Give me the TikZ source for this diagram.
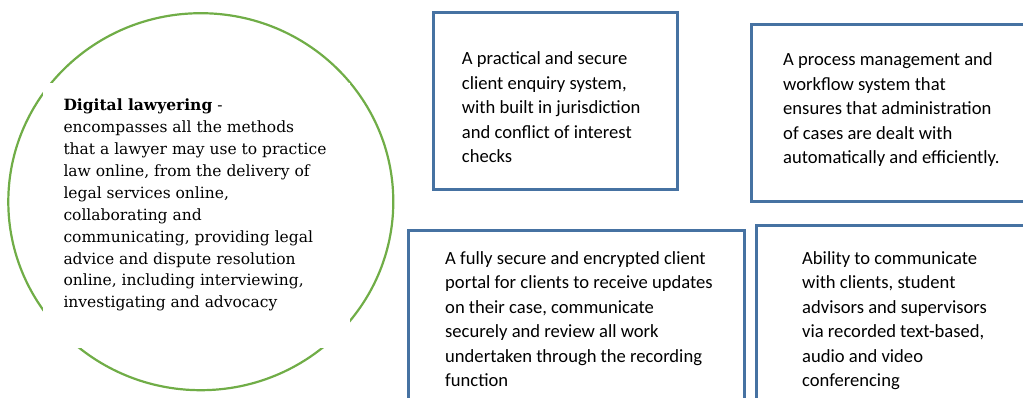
\documentclass[tikz,border=0pt]{standalone}
\usepackage{fontspec}
\usepackage{tikz}
\usetikzlibrary{shapes.geometric}
\newfontfamily\defnfont{DejaVu Serif}
\newfontfamily\boxfont{Carlito}
\definecolor{frameblue}{RGB}{70,114,162}
\definecolor{ringgreen}{RGB}{112,173,71}

\begin{document}
\begin{tikzpicture}[x=1pt, y=-1pt,
		panel/.style={rectangle, draw=frameblue, line width=3pt, fill=white, outer sep=0pt, inner sep=0pt},
		paneltext/.style={anchor=base west, align=left, inner sep=0pt, font=\boxfont\fontsize{18.6}{24.5}\selectfont},
		ring/.style={ellipse, draw=ringgreen, line width=2.2pt, minimum width=385, minimum height=377, inner sep=0pt}]
				\useasboundingbox (0,0) rectangle (1023,398);
				\node[ring] (ring) at (200.8,201.7) {};
				\node[fill=white, minimum width=307, minimum height=265, inner sep=0pt] (gap) at (196.5,215.5) {};
				\node[anchor=base west, align=left, inner sep=0pt, font=\defnfont\fontsize{15.5}{21.9}\selectfont] (def) at (63.3,307.8) {\textbf{Digital lawyering} -\\encompasses all the methods\\that a lawyer may use to practice\\law online, from the delivery of\\legal services online,\\collaborating and\\communicating, providing legal\\advice and dispute resolution\\online, including interviewing,\\investigating and advocacy};
				
				\node[panel, minimum width=244, minimum height=177] (enq) at (555,101.5) {};
				\node[panel, minimum width=279, minimum height=177] (flow) at (890.5,113.5) {};
				\node[panel, minimum width=336, minimum height=179] (portal) at (576,320.5) {};
				\node[panel, minimum width=274, minimum height=184] (comm) at (893,318) {};
				
				\node[paneltext] (enqtext) at (461.7,163) {A practical and secure\\client enquiry system,\\with built in jurisdiction\\and conflict of interest\\checks};
				\node[paneltext] (flowtext) at (783,164) {A process management and\\workflow system that\\ensures that administration\\of cases are dealt with\\automatically and efficiently.};
				\node[paneltext] (portaltext) at (445,386.5) {A fully secure and encrypted client\\portal for clients to receive updates\\on their case, communicate\\securely and review all work\\undertaken through the recording\\function};
				\node[paneltext] (commtext) at (802,386.5) {Ability to communicate\\with clients, student\\advisors and supervisors\\via recorded text-based,\\audio and video\\conferencing};
			\end{tikzpicture}
\end{document}
